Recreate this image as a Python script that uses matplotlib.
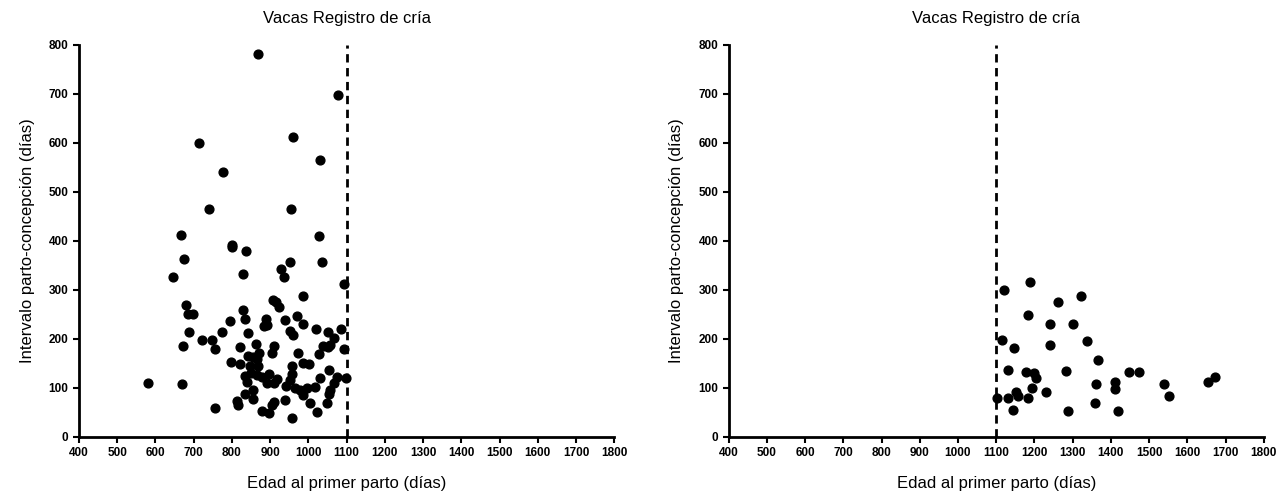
import matplotlib
matplotlib.use("Agg")
import matplotlib.pyplot as plt

plt.rcParams['font.family'] = ['Liberation Sans', 'DejaVu Sans']

# Cows calving before 1100 days
left_x = [869, 1078, 714, 960, 1030, 777, 739, 955,
          666, 800, 800, 837, 675, 1027, 1035, 952, 647, 828, 928, 937, 1092, 985,
          907, 915, 924, 680, 684, 697, 830, 835, 795, 889, 884, 893, 939, 970,
          987, 951, 961, 1020, 1050, 1085, 688, 841, 773, 721, 749, 1067, 1057,
          1038, 1050, 1092, 673, 756, 821, 863, 910, 904, 872, 843, 855, 865, 974,
          1027, 797, 821, 848, 868, 957, 987, 1002, 1055, 835, 849, 865, 878, 896,
          917, 909, 957, 952, 839, 891, 941, 964, 979, 996, 1018, 1031, 1067, 1076,
          1099, 1057, 1053, 581, 669, 856, 835, 855, 813, 817, 909, 904, 939, 985,
          1005, 1048, 756, 878, 896, 958, 1022]
left_y = [782, 698, 600, 612, 565, 541, 465, 465,
          412, 392, 387, 380, 363, 410, 357, 358, 326, 332, 342, 326, 312, 287,
          280, 276, 265, 270, 250, 250, 259, 240, 236, 241, 227, 229, 239, 246,
          230, 216, 208, 220, 214, 220, 215, 212, 215, 198, 198, 201, 188,
          185, 183, 179, 186, 179, 183, 189, 185, 171, 172, 165, 163, 159, 172,
          170, 154, 149, 144, 144, 145, 150, 149, 137, 125, 131, 127, 123, 129,
          118, 110, 129, 117, 113, 110, 105, 100, 96, 100, 103, 120, 111, 123,
          120, 96, 88, 111, 108, 96, 88, 78, 74, 65, 72, 66, 76, 86,
          69, 69, 59, 54, 49, 38, 50]

# Cows calving after 1100 days
right_x = [1121, 1189, 1261, 1322, 1183, 1242, 1301, 1115, 1147, 1241, 1337, 1365,
           1130, 1178, 1200, 1204, 1282, 1448, 1474, 1361, 1412, 1412, 1540, 1655,
           1672, 1193, 1230, 1151, 1158, 1101, 1130, 1182, 1553, 1359, 1143, 1287, 1418]
right_y = [300, 316, 276, 288, 248, 231, 231, 198, 181, 188, 195, 158,
           137, 132, 130, 120, 134, 132, 133, 109, 112, 98, 108, 113,
           123, 99, 91, 91, 84, 80, 79, 79, 84, 70, 55, 54, 53]

cutoff = 1100
title = 'Vacas Registro de cría'
xlab = 'Edad al primer parto (días)'
ylab = 'Intervalo parto-concepción (días)'

fig = plt.figure(figsize=(12.85, 4.93), dpi=100)
ax1 = fig.add_axes([0.0615, 0.1136, 0.4165, 0.7954])
ax2 = fig.add_axes([0.567, 0.1136, 0.4165, 0.7954])

for ax, xs, ys in [(ax1, left_x, left_y), (ax2, right_x, right_y)]:
    ax.scatter(xs, ys, s=40, c='black', zorder=3, clip_on=False)
    ax.axvline(cutoff, color='black', linestyle=(0, (3, 2)), linewidth=2)
    ax.set_xlim(400, 1800)
    ax.set_ylim(0, 800)
    ax.set_xticks(range(400, 1801, 100))
    ax.set_yticks(range(0, 801, 100))
    ax.tick_params(labelsize=8.5, width=1.5, length=4, direction='out')
    for lbl in ax.get_xticklabels() + ax.get_yticklabels():
        lbl.set_fontweight('bold')
    ax.spines['top'].set_visible(False)
    ax.spines['right'].set_visible(False)
    ax.spines['left'].set_linewidth(2)
    ax.spines['bottom'].set_linewidth(2)
    ax.set_title(title, fontsize=12, pad=16)
    ax.set_xlabel(xlab, fontsize=12, labelpad=12)
    ax.set_ylabel(ylab, fontsize=12, labelpad=10)

fig.savefig('out.png', dpi=100)
